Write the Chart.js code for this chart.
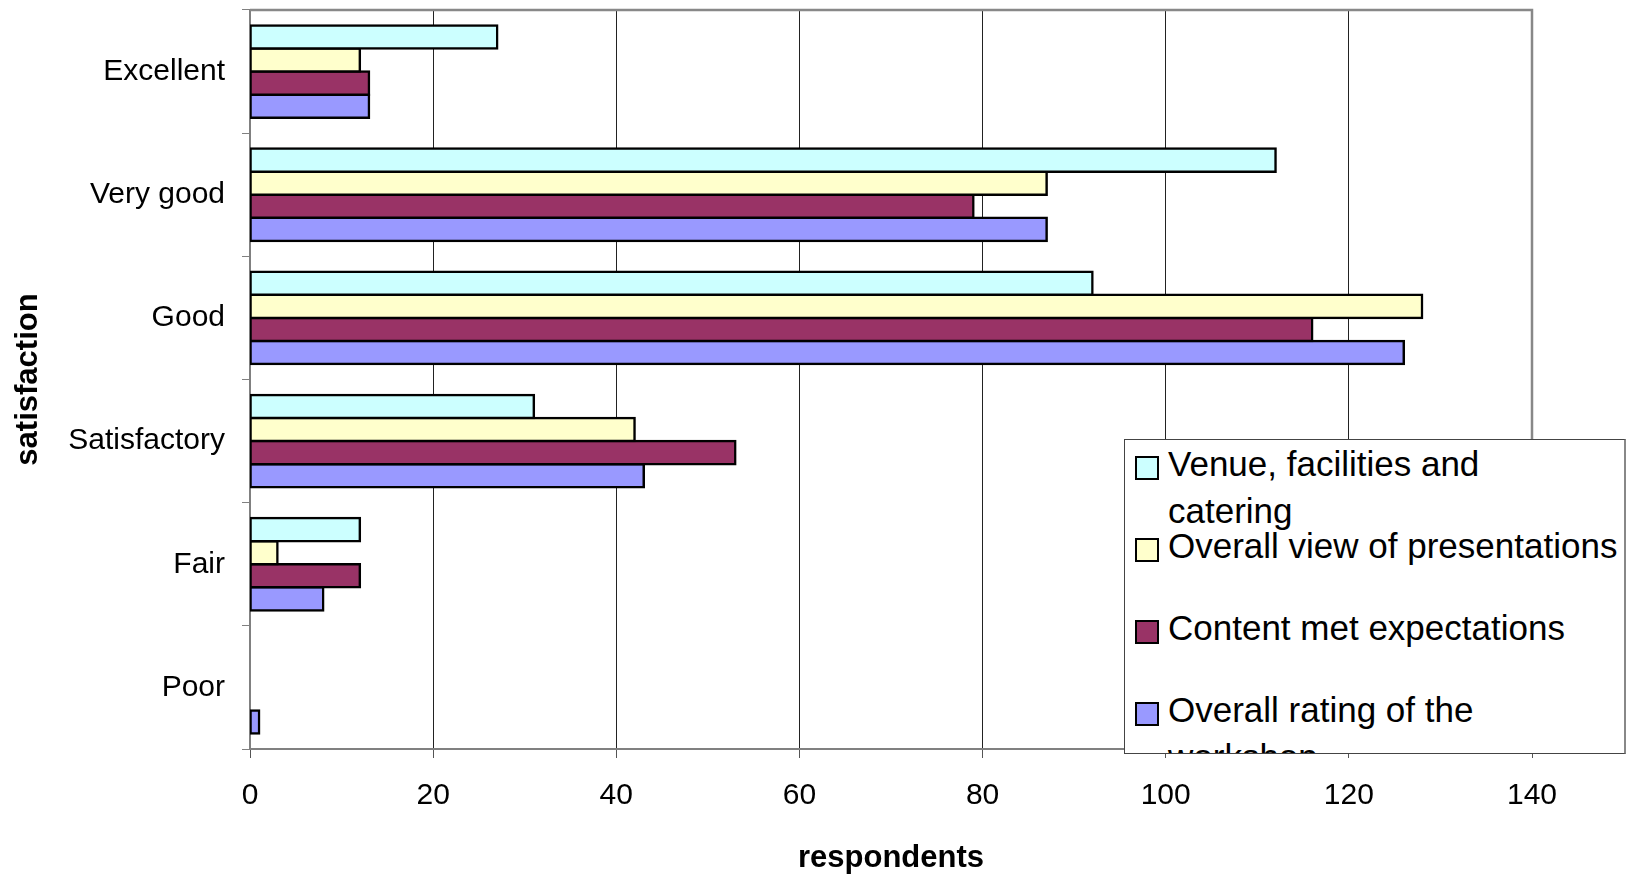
<!DOCTYPE html>
<html>
<head>
<meta charset="utf-8">
<title>Workshop satisfaction</title>
<script src="https://cdn.jsdelivr.net/npm/chart.js@4"></script>
<style>
  html, body { margin: 0; padding: 0; background: #fff; }
  #wrap { position: relative; width: 1634px; height: 877px; }
  #satChart { display: block; }
  #legend {
    position: absolute; left: 1124px; top: 439px; width: 499px; height: 313px;
    background: #fff; border: 1px solid #444; border-right: 2px solid #888;
    overflow: hidden; font-family: "Liberation Sans", Arial, sans-serif;
  }
  .item { position: absolute; left: 0; width: 100%; height: 82px; }
  .swatch { position: absolute; left: 10px; top: 16px; width: 20px; height: 20px; border: 2px solid #000; }
  .text { position: absolute; left: 43px; top: 0; font-size: 35px; line-height: 47px; white-space: pre; color: #000; }
</style>
</head>
<body>
<div id="wrap">
  <canvas id="satChart" width="1634" height="877"></canvas>
  <div id="legend"></div>
</div>
<script>
// categories and counts
var categories = ['Excellent', 'Very good', 'Good', 'Satisfactory', 'Fair', 'Poor'];
var seriesNames = [
    'Venue, facilities and\ncatering',
    'Overall view of presentations',
    'Content met expectations',
    'Overall rating of the\nworkshop'
];
var venue = [27, 112, 92, 31, 12, 0];
var presentations = [12, 87, 128, 42, 3, 0];
var content = [13, 79, 116, 53, 12, 0];
var overall = [13, 87, 126, 43, 8, 1];
var colors = ['#CCFFFF', '#FFFFCC', '#993366', '#9999FF'];

var font = '"Liberation Sans", Arial, sans-serif';

// gray frame round the plot area (top and right side)
var frame = {
    id: 'frame',
    beforeDatasetsDraw: function(chart) {
        var a = chart.chartArea, c = chart.ctx;
        c.save();
        c.strokeStyle = '#888';
        c.lineWidth = 2.5;
        c.beginPath();
        c.moveTo(a.left, a.top);
        c.lineTo(a.right, a.top);
        c.lineTo(a.right, a.bottom);
        c.stroke();
        c.restore();
    }
};

var allSeries = [venue, presentations, content, overall];
var datasets = allSeries.map(function(values, i) {
    return {
        label: seriesNames[i],
        data: values,
        backgroundColor: colors[i],
        borderColor: '#000',
        borderWidth: 2.5,
        borderSkipped: false,
        // overlap neighbours so touching bars share one border
        inflateAmount: function(c) { return c.raw ? 1.25 : 0; },
        barPercentage: 1,
        categoryPercentage: 0.75
    };
});

var ctx = document.getElementById('satChart').getContext('2d');
var chart = new Chart(ctx, {
    type: 'bar',
    data: { labels: categories, datasets: datasets },
    plugins: [frame],
    options: {
        indexAxis: 'y',
        responsive: false,
        animation: false,
        layout: { padding: { top: 10, right: 102, left: 0, bottom: 0 } },
        plugins: {
            legend: { display: false },
            tooltip: { enabled: false }
        },
        scales: {
            x: {
                min: 0,
                max: 140,
                ticks: {
                    stepSize: 20,
                    padding: 20,
                    color: '#000',
                    font: { family: font, size: 30 }
                },
                grid: { color: '#222', lineWidth: 1, tickLength: 9, tickColor: '#555' },
                border: { color: '#808080', width: 2 },
                title: {
                    display: true,
                    text: 'respondents',
                    color: '#000',
                    font: { family: font, size: 31, weight: 'bold' },
                    padding: { top: 0, bottom: 0 }
                },
                afterFit: function(scale) {
                    scale.height = 128;
                    scale.paddingLeft = 0;
                    scale.paddingRight = 0;
                }
            },
            y: {
                ticks: {
                    padding: 17,
                    color: '#000',
                    font: { family: font, size: 30 }
                },
                grid: { drawOnChartArea: false, tickLength: 8, tickColor: '#808080', offset: true },
                border: { color: '#808080', width: 2 },
                title: {
                    display: true,
                    text: 'satisfaction',
                    color: '#000',
                    font: { family: font, size: 31, weight: 'bold' },
                    padding: { top: 10, bottom: 0 }
                },
                afterFit: function(scale) {
                    scale.width = 250;
                    scale.paddingTop = 0;
                    scale.paddingBottom = 0;
                }
            }
        }
    }
});

// legend box drawn over the plot, built from the datasets
var legend = document.getElementById('legend');
chart.data.datasets.forEach(function(ds, i) {
    var item = document.createElement('div');
    item.className = 'item';
    item.style.top = (i * 82) + 'px';
    var sw = document.createElement('div');
    sw.className = 'swatch';
    sw.style.background = ds.backgroundColor;
    var tx = document.createElement('div');
    tx.className = 'text';
    tx.textContent = ds.label;
    item.appendChild(sw);
    item.appendChild(tx);
    legend.appendChild(item);
});
</script>
</body>
</html>
